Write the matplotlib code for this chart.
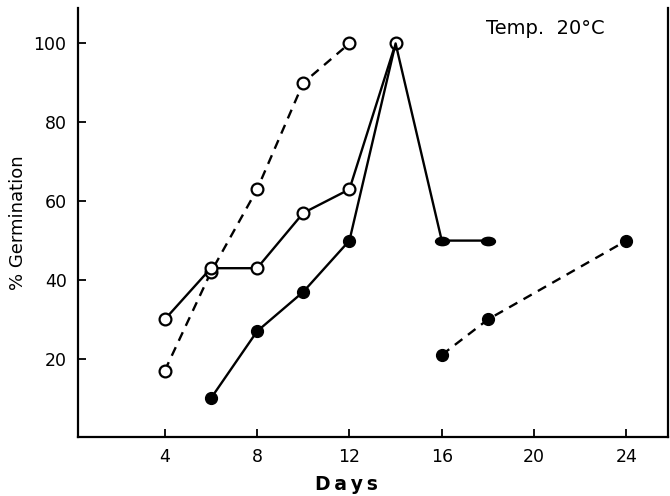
import matplotlib.pyplot as plt
from matplotlib.path import Path
from matplotlib.transforms import Affine2D

# open circles, dashed
open_dash_days = [4, 6, 8, 10, 12]
open_dash_pct = [17, 42, 63, 90, 100]

# open circles, solid
open_solid_days = [4, 6, 8, 10, 12, 14]
open_solid_pct = [30, 43, 43, 57, 63, 100]

# filled circles, solid (last two points drawn flattened, as in the original)
filled_solid_days = [6, 8, 10, 12, 14, 16, 18]
filled_solid_pct = [10, 27, 37, 50, 100, 50, 50]

# filled circles, dashed
filled_dash_days = [16, 18, 24]
filled_dash_pct = [21, 30, 50]

x_ticks = [4, 8, 12, 16, 20, 24]
y_ticks = [20, 40, 60, 80, 100]

flat_dot = Path.unit_circle().transformed(Affine2D().scale(1, 0.6))

fig = plt.figure(figsize=(6.7, 4.96), dpi=100)
ax = fig.add_axes([0.116, 0.119, 0.881, 0.865])

lw = 1.7
ms = 8.5
dash = (0, (4, 3))
ax.plot(open_dash_days, open_dash_pct, color="black", lw=lw, ls=dash,
        marker="o", ms=ms, mfc="white", mec="black", mew=1.6)
ax.plot(open_solid_days, open_solid_pct, color="black", lw=lw,
        marker="o", ms=ms, mfc="white", mec="black", mew=1.6)
ax.plot(filled_solid_days, filled_solid_pct, color="black", lw=lw)
ax.plot(filled_solid_days[:4], filled_solid_pct[:4], ls="none",
        marker="o", ms=ms, mfc="black", mec="black")
ax.plot(filled_solid_days[5:], filled_solid_pct[5:], ls="none",
        marker=flat_dot, ms=10, mfc="black", mec="black")
ax.plot(filled_dash_days, filled_dash_pct, color="black", lw=lw, ls=dash,
        marker="o", ms=ms, mfc="black", mec="black")

ax.set_xlim(0.23, 25.8)
ax.set_ylim(0.2, 109)
ax.set_xticks(x_ticks)
ax.set_yticks(y_ticks)
ax.tick_params(direction="in", length=6, width=1.3, labelsize=12.5, pad=8)
ax.spines["top"].set_visible(False)
for s in ["left", "bottom", "right"]:
    ax.spines[s].set_linewidth(1.6)

ax.set_xlabel("D\u2009a\u2009y\u2009s", fontsize=13.5, fontweight="bold")
ax.xaxis.set_label_coords(0.456, -0.089)
ax.set_ylabel("% Germination", fontsize=13, labelpad=5)
ax.text(17.9, 103.8, "Temp.  20°C", fontsize=14, va="center", ha="left")

fig.savefig("out.png", dpi=100)
